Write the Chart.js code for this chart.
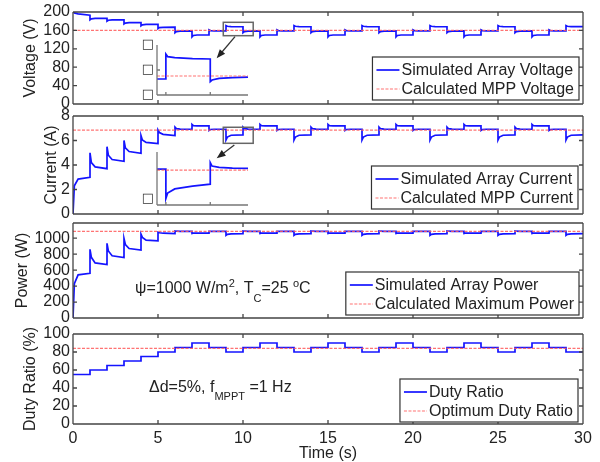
<!DOCTYPE html>
<html>
<head>
<meta charset="utf-8">
<script src="https://cdn.jsdelivr.net/npm/chart.js@4.4.1/dist/chart.umd.min.js"></script>
<style>
html, body { margin: 0; padding: 0; background: #fff; }
#wrap { position: relative; width: 600px; height: 462px; }
#wrap canvas { position: absolute; left: 0; top: 0; }
</style>
</head>
<body>
<div id="wrap">
  <canvas id="volt" width="600" height="462"></canvas>
  <canvas id="curr" width="600" height="462"></canvas>
  <canvas id="pow" width="600" height="462"></canvas>
  <canvas id="duty" width="600" height="462"></canvas>
  <canvas id="insetV" width="600" height="462"></canvas>
  <canvas id="insetI" width="600" height="462"></canvas>
</div>
<script>
// time axis
const xTicks = [0, 5, 10, 15, 20, 25, 30];
// sample times inside each 1 s MPPT step: start, 0.08 s, 0.3 s, end
const sampleOffsets = [0, 0.08, 0.3, 1];

// one row per second: [start, 0.08 s, 0.3 s, end]
const voltSegments = [
  [201, 198, 196, 193],
  [183, 185, 186, 186],
  [180, 182, 183, 183],
  [174, 176, 177, 177],
  [170, 172, 173, 173],
  [164, 166, 166.5, 167],
  [155, 157.5, 158.5, 159],
  [146, 149, 150, 150],
  [161, 159.5, 159, 159],
  [170.5, 169, 168.3, 168],
  [155, 157.5, 158.5, 159],
  [146, 149, 150, 150],
  [161, 159.5, 159, 159],
  [170.5, 169, 168.3, 168],
  [155, 157.5, 158.5, 159],
  [146, 149, 150, 150],
  [161, 159.5, 159, 159],
  [170.5, 169, 168.3, 168],
  [155, 157.5, 158.5, 159],
  [146, 149, 150, 150],
  [161, 159.5, 159, 159],
  [170.5, 169, 168.3, 168],
  [155, 157.5, 158.5, 159],
  [146, 149, 150, 150],
  [161, 159.5, 159, 159],
  [170.5, 169, 168.3, 168],
  [155, 157.5, 158.5, 159],
  [146, 149, 150, 150],
  [161, 159.5, 159, 159],
  [170.5, 169, 168.3, 168]
];

const currSegments = [
  [0, 2.3, 2.85, 3.0],
  [5.0, 4.2, 3.85, 3.7],
  [5.5, 4.8, 4.45, 4.3],
  [6.0, 5.4, 5.1, 4.95],
  [6.4, 6.05, 5.85, 5.75],
  [6.85, 6.65, 6.5, 6.4],
  [7.09, 6.97, 6.93, 6.92],
  [7.32, 7.22, 7.2, 7.2],
  [6.82, 6.9, 6.92, 6.92],
  [6.04, 6.28, 6.43, 6.46],
  [7.09, 6.97, 6.93, 6.92],
  [7.32, 7.22, 7.2, 7.2],
  [6.82, 6.9, 6.92, 6.92],
  [6.04, 6.28, 6.43, 6.46],
  [7.09, 6.97, 6.93, 6.92],
  [7.32, 7.22, 7.2, 7.2],
  [6.82, 6.9, 6.92, 6.92],
  [6.04, 6.28, 6.43, 6.46],
  [7.09, 6.97, 6.93, 6.92],
  [7.32, 7.22, 7.2, 7.2],
  [6.82, 6.9, 6.92, 6.92],
  [6.04, 6.28, 6.43, 6.46],
  [7.09, 6.97, 6.93, 6.92],
  [7.32, 7.22, 7.2, 7.2],
  [6.82, 6.9, 6.92, 6.92],
  [6.04, 6.28, 6.43, 6.46],
  [7.09, 6.97, 6.93, 6.92],
  [7.32, 7.22, 7.2, 7.2],
  [6.82, 6.9, 6.92, 6.92],
  [6.04, 6.28, 6.43, 6.46]
];

const powSegments = [
  [0, 430, 540, 560],
  [860, 760, 690, 670],
  [935, 840, 780, 758],
  [995, 920, 870, 850],
  [1050, 1010, 975, 965],
  [1075, 1068, 1062, 1058],
  [1090, 1087, 1085, 1085],
  [1058, 1062, 1062, 1062],
  [1085, 1086, 1086, 1085],
  [1035, 1048, 1054, 1056],
  [1090, 1087, 1085, 1085],
  [1058, 1062, 1062, 1062],
  [1085, 1086, 1086, 1085],
  [1035, 1048, 1054, 1056],
  [1090, 1087, 1085, 1085],
  [1058, 1062, 1062, 1062],
  [1085, 1086, 1086, 1085],
  [1035, 1048, 1054, 1056],
  [1090, 1087, 1085, 1085],
  [1058, 1062, 1062, 1062],
  [1085, 1086, 1086, 1085],
  [1035, 1048, 1054, 1056],
  [1090, 1087, 1085, 1085],
  [1058, 1062, 1062, 1062],
  [1085, 1086, 1086, 1085],
  [1035, 1048, 1054, 1056],
  [1090, 1087, 1085, 1085],
  [1058, 1062, 1062, 1062],
  [1085, 1086, 1086, 1085],
  [1035, 1048, 1054, 1056]
];

// duty ratio (%) held during each second
const dutyLevels = [55, 60, 65, 70, 75, 80, 85, 90, 85, 80, 85, 90, 85, 80, 85,
                    90, 85, 80, 85, 90, 85, 80, 85, 90, 85, 80, 85, 90, 85, 80];

const mppVoltage = 160;
const mppCurrent = 6.85;
const maxPower = 1085;
const optDuty = 84;

const voltTicks = [0, 40, 80, 120, 160, 200];
const currTicks = [0, 2, 4, 6, 8];
const powTicks = [0, 200, 400, 600, 800, 1000];
const dutyTicks = [0, 20, 40, 60, 80, 100];

// zoomed insets around t = 9..10 s
const insetTime = [8.8, 9.0, 9.0, 9.04, 9.2, 9.6, 10.0, 10.0, 10.04, 10.2, 10.5, 10.85];
const insetVolt = [158, 158, 170.4, 169.2, 168.7, 168.2, 168, 156.7, 157.5, 158.3, 158.7, 158.9];
const insetCurr = [6.9, 6.9, 6.04, 6.2, 6.32, 6.4, 6.46, 7.09, 6.99, 6.95, 6.93, 6.92];
const insetVoltTicks = [150, 162.5, 175];
const insetCurrTicks = [6.03];

const FONT = '"Liberation Sans", Arial, Helvetica, sans-serif';
const BLUE = '#1414ff';
const RED = 'rgba(255, 90, 90, 0.85)';
const INK = '#222';

Chart.defaults.font.family = FONT;
Chart.defaults.font.size = 16;
Chart.defaults.color = INK;

function segSeries(segs) {
  const pts = [];
  segs.forEach((s, i) => s.forEach((v, k) => pts.push({x: i + sampleOffsets[k], y: v})));
  return pts;
}
function flat(v, x0, x1) {
  return [{x: x0, y: v}, {x: x1, y: v}];
}
function zip(xs, ys) {
  return xs.map((x, i) => ({x: x, y: ys[i]}));
}

const framePlugin = {
  id: 'frame',
  afterDatasetsDraw(chart, args, o) {
    if (!o.sides) return;
    const {ctx, chartArea: a} = chart;
    const xs = chart.scales.x, ys = chart.scales.y;
    ctx.save();
    ctx.strokeStyle = o.color;
    ctx.lineWidth = o.width;
    ctx.beginPath();
    if (o.sides.includes('top')) { ctx.moveTo(a.left, a.top); ctx.lineTo(a.right, a.top); }
    if (o.sides.includes('bottom')) { ctx.moveTo(a.left, a.bottom); ctx.lineTo(a.right, a.bottom); }
    if (o.sides.includes('left')) { ctx.moveTo(a.left, a.top); ctx.lineTo(a.left, a.bottom); }
    if (o.sides.includes('right')) { ctx.moveTo(a.right, a.top); ctx.lineTo(a.right, a.bottom); }
    (o.xTicks || []).forEach(t => {
      const px = xs.getPixelForValue(t);
      ctx.moveTo(px, a.bottom); ctx.lineTo(px, a.bottom - o.tick);
      if (o.sides.includes('top')) { ctx.moveTo(px, a.top); ctx.lineTo(px, a.top + o.tick); }
    });
    (o.yTicks || []).forEach(t => {
      const py = ys.getPixelForValue(t);
      ctx.moveTo(a.left, py); ctx.lineTo(a.left + o.tick, py);
      if (o.sides.includes('right')) { ctx.moveTo(a.right, py); ctx.lineTo(a.right - o.tick, py); }
    });
    ctx.stroke();
    // missing-glyph tick labels of the insets
    if (o.glyphTicks) {
      ctx.fillStyle = '#333';
      ctx.font = '13px "DejaVu Sans"';
      ctx.textAlign = 'center';
      ctx.textBaseline = 'middle';
      o.glyphTicks.forEach(t => ctx.fillText('\u25A1', a.left - 9, ys.getPixelForValue(t)));
    }
    ctx.restore();
  }
};

const zoomBoxPlugin = {
  id: 'zoomBox',
  afterDatasetsDraw(chart, args, o) {
    if (!o.box) return;
    const {ctx} = chart;
    const xs = chart.scales.x, ys = chart.scales.y;
    const [t0, t1, v0, v1] = o.box;
    const bx = xs.getPixelForValue(t0), bx1 = xs.getPixelForValue(t1);
    const by = ys.getPixelForValue(v1), by1 = ys.getPixelForValue(v0);
    ctx.save();
    ctx.strokeStyle = '#666';
    ctx.lineWidth = 1.5;
    ctx.strokeRect(bx, by, bx1 - bx, by1 - by);
    const [at, av, ht, hv] = o.arrow;
    const x0 = xs.getPixelForValue(at), y0 = ys.getPixelForValue(av);
    const x1 = xs.getPixelForValue(ht), y1 = ys.getPixelForValue(hv);
    const ang = Math.atan2(y1 - y0, x1 - x0);
    ctx.strokeStyle = '#333';
    ctx.lineWidth = 1.3;
    ctx.beginPath();
    ctx.moveTo(x0, y0);
    ctx.lineTo(x1 - 6 * Math.cos(ang), y1 - 6 * Math.sin(ang));
    ctx.stroke();
    ctx.fillStyle = '#222';
    ctx.beginPath();
    ctx.moveTo(x1, y1);
    ctx.lineTo(x1 - 9 * Math.cos(ang) + 3.5 * Math.sin(ang), y1 - 9 * Math.sin(ang) - 3.5 * Math.cos(ang));
    ctx.lineTo(x1 - 9 * Math.cos(ang) - 3.5 * Math.sin(ang), y1 - 9 * Math.sin(ang) + 3.5 * Math.cos(ang));
    ctx.closePath();
    ctx.fill();
    ctx.restore();
  }
};

const boxLegendPlugin = {
  id: 'boxLegend',
  afterDraw(chart, args, o) {
    if (!o.show) return;
    const {ctx, chartArea: a} = chart;
    const sets = chart.data.datasets;
    ctx.save();
    ctx.font = '16px ' + FONT;
    const tw = Math.max(...sets.map(d => ctx.measureText(d.label).width));
    const w = 29 + tw + 5, h = 43;
    const left = a.right - o.right - w, top = a.bottom - o.bottom - h;
    ctx.fillStyle = '#fff';
    ctx.fillRect(left, top, w, h);
    ctx.strokeStyle = '#333';
    ctx.lineWidth = 1.2;
    ctx.strokeRect(left, top, w, h);
    sets.forEach((d, i) => {
      const cy = top + 13 + i * 19;
      ctx.strokeStyle = d.borderColor;
      ctx.lineWidth = d.borderWidth;
      ctx.setLineDash(d.borderDash || []);
      ctx.beginPath();
      ctx.moveTo(left + 4, cy);
      ctx.lineTo(left + 27, cy);
      ctx.stroke();
      ctx.setLineDash([]);
      ctx.fillStyle = INK;
      ctx.textBaseline = 'middle';
      ctx.fillText(d.label, left + 29, cy + 1);
    });
    ctx.restore();
  }
};

const richTextPlugin = {
  id: 'richText',
  afterDraw(chart, args, o) {
    if (!o.parts) return;
    const {ctx} = chart;
    let x = o.x;
    ctx.save();
    ctx.fillStyle = INK;
    ctx.textBaseline = 'alphabetic';
    o.parts.forEach(p => {
      const small = p.sub || p.sup;
      ctx.font = (small ? 11 : 16) + 'px ' + FONT;
      const dy = p.sup ? o.supDy : p.sub ? o.subDy : 0;
      ctx.fillText(p.t, x, o.y + dy);
      x += ctx.measureText(p.t).width;
    });
    ctx.restore();
  }
};

function makePanel(id, cfg) {
  return new Chart(document.getElementById(id), {
    type: 'line',
    data: {
      datasets: [
        { label: cfg.labels[0], data: cfg.blue, borderColor: BLUE, borderWidth: 1.7,
          pointRadius: 0, tension: 0, stepped: cfg.stepped || false, order: 1 },
        { label: cfg.labels[1], data: flat(cfg.red, 0, 30), borderColor: RED, borderWidth: 1.2,
          borderDash: [3, 1.5], pointRadius: 0, order: 0 }
      ]
    },
    options: {
      responsive: false,
      animation: false,
      events: [],
      layout: { padding: { left: 0, right: 17, top: cfg.top, bottom: cfg.bottom } },
      scales: {
        x: cfg.xAxis ? {
          type: 'linear', min: 0, max: 30,
          afterFit(s) { s.height = 38; },
          afterBuildTicks(s) { s.ticks = xTicks.map(v => ({value: v})); },
          ticks: { padding: 5, maxRotation: 0, autoSkip: false, color: INK, font: { size: 16 },
                   callback: v => String(v) },
          grid: { display: false, drawTicks: false },
          border: { display: false },
          title: { display: true, text: 'Time (s)', color: INK, font: { size: 16, lineHeight: 1 }, padding: 0 }
        } : { type: 'linear', min: 0, max: 30, display: false },
        y: {
          min: 0, max: cfg.ymax,
          afterFit(s) { s.width = 73; },
          afterBuildTicks(s) { s.ticks = cfg.yTicks.map(v => ({value: v})); },
          ticks: { padding: 3, autoSkip: false, color: INK, font: { size: 16, lineHeight: 1 },
                   callback: v => String(v) },
          grid: { display: false, drawTicks: false },
          border: { display: false },
          title: { display: true, text: cfg.title, color: INK, font: { size: 16, lineHeight: 1 },
                   padding: { top: cfg.titlePad, bottom: 0 } }
        }
      },
      plugins: {
        legend: { display: false },
        tooltip: { enabled: false },
        frame: { sides: ['top', 'bottom', 'left', 'right'], color: '#444', width: 1.3, tick: 4,
                 xTicks: xTicks, yTicks: cfg.yTicks },
        boxLegend: { show: true, right: cfg.legRight, bottom: cfg.legBottom },
        richText: cfg.text || {},
        zoomBox: cfg.zoom || {}
      }
    },
    plugins: [framePlugin, zoomBoxPlugin, boxLegendPlugin, richTextPlugin]
  });
}

function makeInset(id, cfg) {
  return new Chart(document.getElementById(id), {
    type: 'line',
    data: {
      datasets: [
        { label: 'sim', data: zip(insetTime, cfg.blue), borderColor: BLUE, borderWidth: 1.7,
          pointRadius: 0, tension: 0, order: 1 },
        { label: 'calc', data: flat(cfg.red, insetTime[0], insetTime[insetTime.length - 1]),
          borderColor: RED, borderWidth: 1.2, borderDash: [3, 1.5], pointRadius: 0, order: 0 }
      ]
    },
    options: {
      responsive: false,
      animation: false,
      events: [],
      layout: { padding: cfg.pad },
      scales: {
        x: { type: 'linear', min: insetTime[0], max: insetTime[insetTime.length - 1], display: false },
        y: { min: cfg.ymin, max: cfg.ymax, display: false }
      },
      plugins: {
        legend: { display: false },
        tooltip: { enabled: false },
        frame: { sides: ['left', 'bottom'], color: '#777', width: 1.3, tick: 3,
                 xTicks: [9, 10], yTicks: cfg.midTick, glyphTicks: cfg.glyphs }
      }
    },
    plugins: [framePlugin]
  });
}

makePanel('volt', {
  labels: ['Simulated Array Voltage', 'Calculated MPP Voltage'],
  blue: segSeries(voltSegments), red: mppVoltage,
  top: 12, bottom: 358, ymax: 200, yTicks: voltTicks,
  title: 'Voltage (V)', titlePad: 23, legRight: 4, legBottom: 4,
  zoom: { box: [8.84, 10.6, 148.5, 177.6], arrow: [9.53, 146.3, 8.45, 99.3] }
});

makePanel('curr', {
  labels: ['Simulated Array Current', 'Calculated MPP Current'],
  blue: segSeries(currSegments), red: mppCurrent,
  top: 116, bottom: 248, ymax: 8, yTicks: currTicks,
  title: 'Current (A)', titlePad: 44, legRight: 5, legBottom: 5,
  zoom: { box: [8.84, 10.6, 5.77, 7.08], arrow: [9.49, 5.63, 8.45, 4.55] }
});

makePanel('pow', {
  labels: ['Simulated Array Power', 'Calculated Maximum Power'],
  blue: segSeries(powSegments), red: maxPower,
  top: 223, bottom: 144, ymax: 1190, yTicks: powTicks,
  title: 'Power (W)', titlePad: 15, legRight: 4, legBottom: 3,
  text: { x: 135, y: 293, supDy: -6, subDy: 9,
          parts: [{t: '\u03C8=1000 W/m'}, {t: '2', sup: true}, {t: ', T'}, {t: 'C', sub: true},
                  {t: '=25 '}, {t: 'o', sup: true}, {t: 'C'}] }
});

makePanel('duty', {
  labels: ['Duty Ratio', 'Optimum Duty Ratio'],
  blue: dutyLevels.map((d, i) => ({x: i, y: d})).concat([{x: 30, y: dutyLevels[dutyLevels.length - 1]}]),
  stepped: 'before', red: optDuty,
  top: 334, bottom: 0, ymax: 100, yTicks: dutyTicks, xAxis: true,
  title: 'Duty Ratio (%)', titlePad: 23, legRight: 5, legBottom: 2,
  text: { x: 149, y: 392, supDy: -6, subDy: 8,
          parts: [{t: '\u0394d=5%, f'}, {t: 'MPPT', sub: true}, {t: ' =1 Hz'}] }
});

makeInset('insetV', {
  blue: insetVolt, red: 159.5, ymin: 150, ymax: 175,
  pad: { left: 157, right: 352, top: 45, bottom: 367 },
  midTick: [162.5], glyphs: insetVoltTicks
});

makeInset('insetI', {
  blue: insetCurr, red: 6.87, ymin: 5.85, ymax: 7.4,
  pad: { left: 157, right: 352, top: 152, bottom: 257 },
  midTick: [], glyphs: insetCurrTicks
});
</script>
</body>
</html>
